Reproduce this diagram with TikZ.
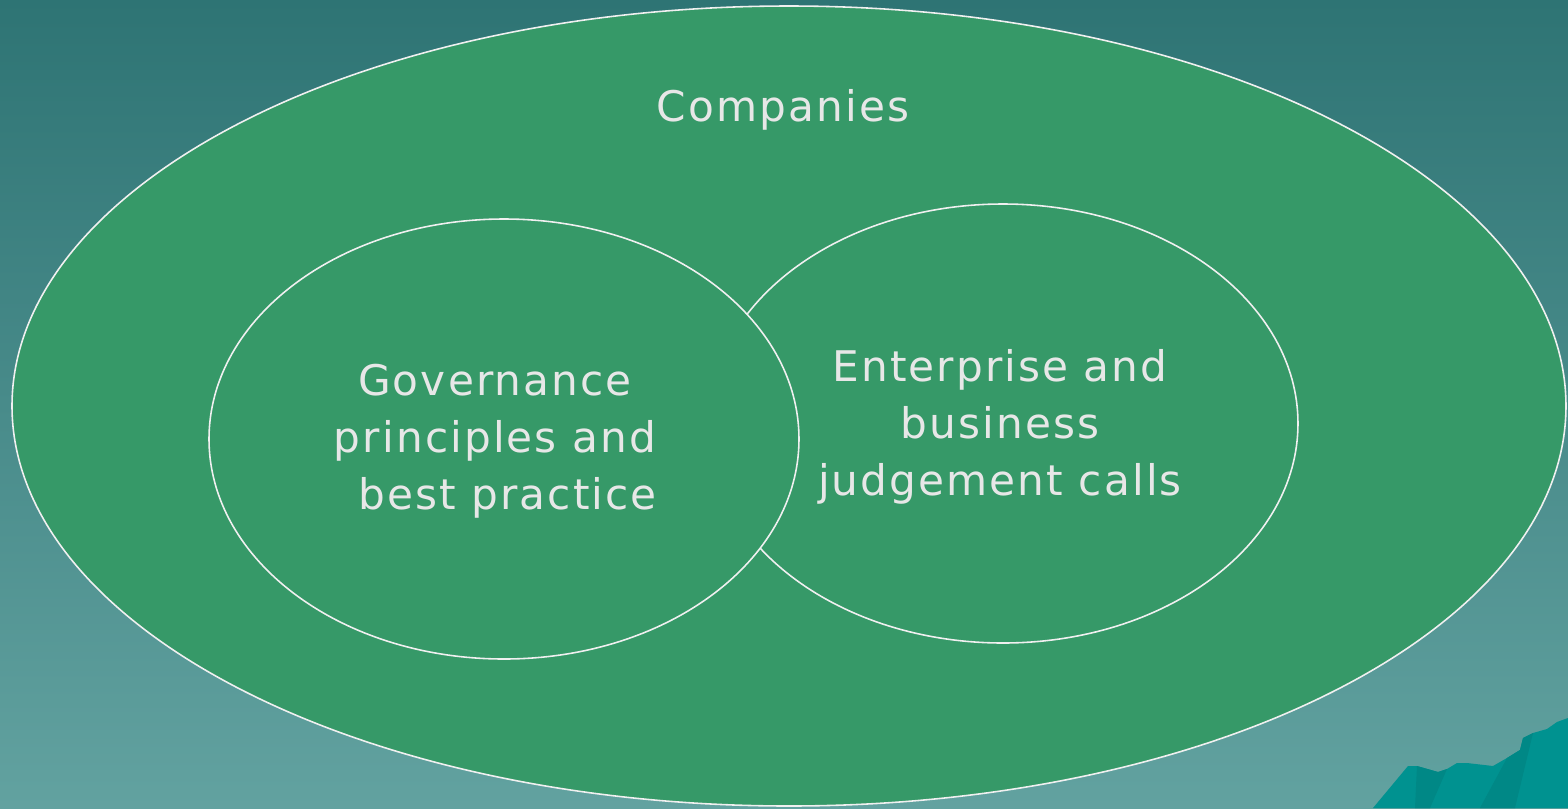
\documentclass[tikz,border=0pt]{standalone}
\usepackage{fontspec}
\setmainfont[LetterSpace=5]{DejaVu Sans}
\definecolor{bgtop}{RGB}{46,116,116}
\definecolor{bgbottom}{RGB}{98,162,160}
\definecolor{leaf}{RGB}{54,153,104}
\definecolor{rim}{RGB}{240,240,240}
\definecolor{hill}{RGB}{0,146,144}
\definecolor{hilldark}{RGB}{0,136,134}
\tikzset{
  set/.style={fill=leaf,draw=rim,line width=0.45pt},
  label/.style={text=rim!96!black,font=\fontsize{12}{16.2}\selectfont,align=center}
}
\begin{document}
\begin{tikzpicture}[x=0.01cm,y=-0.01cm]
    \shade[top color=bgtop,bottom color=bgbottom] (0,0) rectangle (1568,808);
    % hills in the corner
    \fill[hill] (1373,808) -- (1408,766) -- (1417,766) -- (1438,772) -- (1447,769)
        -- (1457,763) -- (1467,763) -- (1493,766) -- (1507,758) -- (1520,750)
        -- (1523,738) -- (1533,733) -- (1547,729) -- (1557,722) -- (1568,718)
        -- (1568,808) -- cycle;
    \fill[hilldark] (1417,766) -- (1438,772) -- (1447,769) -- (1430,808) -- (1415,808) -- cycle;
    \fill[hilldark] (1507,758) -- (1520,750) -- (1523,738) -- (1533,733) -- (1515,808) -- (1480,808) -- cycle;
    \draw[set] (789,406) ellipse [x radius=777, y radius=400];
    \draw[set] (1003,423.5) ellipse [x radius=295, y radius=219.5];
    \draw[set] (504,439) ellipse [x radius=295, y radius=220];
    \node[label] (companies) at (783,110) {Companies};
    \node[label] (governance) at (495,441) {Governance\\principles and\\\hspace*{0.6em}best practice};
    \node[label] (enterprise) at (1000,427) {Enterprise and\\business\hspace*{0.6em}\\judgement calls};
\end{tikzpicture}
\end{document}
